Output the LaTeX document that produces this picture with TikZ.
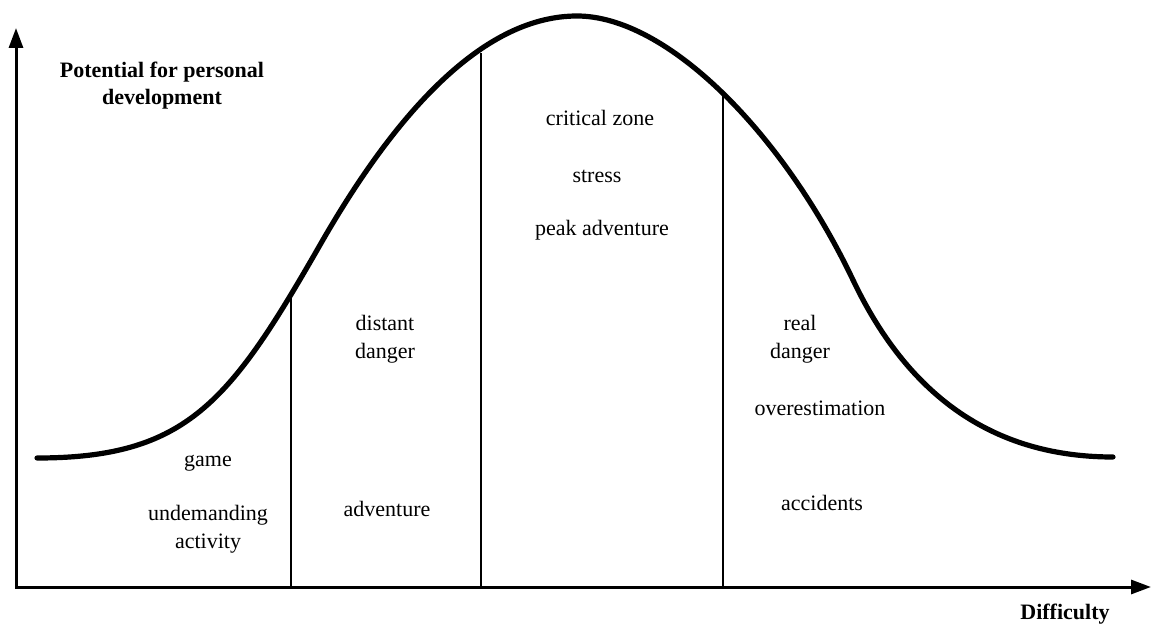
\documentclass[tikz,border=0pt]{standalone}
\usepackage{fontspec}
\setmainfont{Liberation Serif}
\newfontfamily\zonefont{Liberation Serif}
\usetikzlibrary{arrows.meta, positioning}

\begin{document}
\begin{tikzpicture}[
  x=0.5pt, y=-0.5pt,
  every node/.style={font=\zonefont\fontsize{11}{14}\selectfont, align=center, inner sep=0pt},
  axis/.style={line width=1.5pt, line join=miter, {Triangle[length=10pt,width=7pt]}-{Triangle[length=10pt,width=7pt]}},
  curve/.style={line width=2.6pt, line cap=round},
  divider/.style={line width=1pt},
  axislabel/.style={font=\zonefont\fontsize{11}{13.5}\selectfont\bfseries},
]
  \useasboundingbox (0,0) rectangle (1153,626);

  % axes
  \coordinate (ytip) at (16,28);
  \coordinate (xtip) at (1151,587);
  \draw[axis] (ytip) |- (xtip);

  % bell curve
  \coordinate (start) at (37,458);
  \coordinate (infl1) at (320,245);
  \coordinate (top)   at (577,16);
  \coordinate (infl2) at (853,280);
  \coordinate (end)   at (1113,457);
  \draw[curve] (start) .. controls (187,458) and (230,402) .. (infl1)
    .. controls (400,105) and (487,16) .. (top)
    .. controls (667,16) and (783,133) .. (infl2)
    .. controls (903,385) and (983,457) .. (end);

  % zone borders
  \coordinate (b1) at (291,587); \coordinate (c1) at (291,294);
  \coordinate (b2) at (481,587); \coordinate (c2) at (481,53);
  \coordinate (b3) at (723,587); \coordinate (c3) at (723,96);
  \draw[divider] (b1) -- (c1);
  \draw[divider] (b2) -- (c2);
  \draw[divider] (b3) -- (c3);

  % axis labels
  \node[axislabel] (ylabel) at (162,86) {Potential for personal\\development};
  \node[axislabel] (xlabel) at (1065,614) {Difficulty};

  % zone texts
  \node (game)   at (208,463) {game};
  \node (undem)  at (208,529) {undemanding\\activity};
  \node (distant) at (385,339) {distant\\danger};
  \node (adv)    at (387,509) {adventure};
  \node (crit)   at (600,118) {critical zone};
  \node (stress) at (597,176) {stress};
  \node (peak)   at (602,230) {peak adventure};
  \node (real)   at (800,339) {real\\danger};
  \node (over)   at (820,408) {overestimation};
  \node (acc)    at (822,503) {accidents};
\end{tikzpicture}
\end{document}
